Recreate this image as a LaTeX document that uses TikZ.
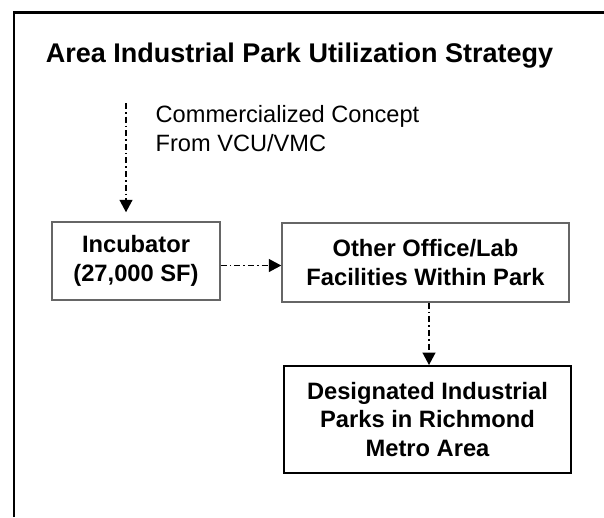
\documentclass[tikz,border=0pt]{standalone}
\usepackage{fontspec}
\setmainfont{Liberation Sans}
\usetikzlibrary{arrows.meta}

\tikzset{
  flowbox/.style={draw=black!60, line width=1.5pt, inner sep=0pt, align=center,
    font=\bfseries\fontsize{23.7}{28.5}\selectfont},
  finalbox/.style={flowbox, draw=black, line width=2pt},
  dashdot/.style={line width=1.4pt, dash pattern=on 6pt off 3pt on 1.6pt off 3pt,
    -{Triangle[length=12.5pt,width=13pt]}},
}

\begin{document}
\begin{tikzpicture}[x=1pt,y=-1pt]
\useasboundingbox (0,0) rectangle (604,517);

% open frame: top and left edges only
\draw[line width=2.4pt] (14,517) -- (14,12.5) -- (604,12.5);

\node[font=\bfseries\fontsize{27}{32}\selectfont, anchor=base] (title) at (299.5,62)
  {Area Industrial Park Utilization Strategy};

\node[align=left, inner sep=0pt, anchor=west, font=\fontsize{23.6}{28.7}\selectfont] (concept)
  at (155.5,128.5) {Commercialized Concept\\From VCU/VMC};

\node[flowbox, minimum width=168pt, minimum height=78pt] (inc) at (136,261)
  {Incubator\\(27,000 SF)};
\node[flowbox, minimum width=287pt, minimum height=79pt] (other) at (425.5,262.5)
  {Other Office/Lab\\Facilities Within Park};
\node[finalbox, minimum width=287pt, minimum height=107pt] (final) at (427.5,419.5)
  {Designated Industrial\\Parks in Richmond\\Metro Area};

\coordinate (src) at (126,103);
\draw[dashdot, shorten >=9pt] (src) -- (src |- inc.north);
\draw[dashdot] ([yshift=-4.5pt]inc.east) -- ([yshift=-4.5pt]inc.east -| other.west);
\draw[dashdot] ([xshift=3.5pt]other.south) -- ([xshift=3.5pt]other.south |- final.north);
\end{tikzpicture}
\end{document}
